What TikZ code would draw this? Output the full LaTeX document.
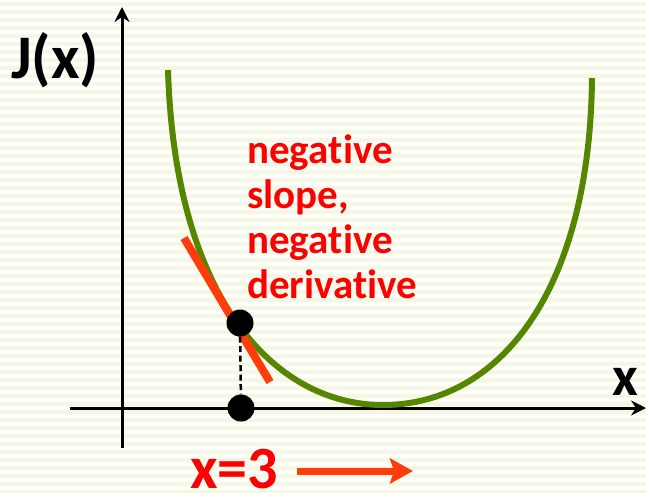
\documentclass[tikz,border=0pt]{standalone}
\usepackage{fontspec}
\setmainfont{Carlito}[Ligatures={NoCommon,NoRare,NoContextual}]
\usetikzlibrary{arrows.meta}
\definecolor{stripe}{RGB}{245,248,225}
\definecolor{curvegreen}{RGB}{84,134,0}
\definecolor{tanred}{RGB}{255,60,10}
\definecolor{txtred}{RGB}{255,0,0}
\tikzset{
  axis/.style={line width=3pt,-{Stealth[length=15pt,width=15pt,inset=5pt]}},
  lbl/.style={font=\bfseries\fontsize{41}{45}\selectfont,text=txtred,inner sep=0pt,anchor=base west},
  big/.style={font=\bfseries\fontsize{62}{66}\selectfont,inner sep=0pt,anchor=base west},
  dot/.style={circle,fill=black,minimum size=27pt,inner sep=0pt},
}
\begin{document}
\begin{tikzpicture}[x=1pt,y=-1pt]
\useasboundingbox (0,0) rectangle (646,493);
\fill[white] (0,0) rectangle (646,493);
\foreach \i in {0,...,61}{\fill[stripe] (0,8*\i+2) rectangle (646,8*\i+6);}
% axes
\coordinate (yb) at (122,448);
\coordinate (yt) at (122,7);
\coordinate (xl) at (70,408);
\coordinate (xr) at (646,408);
\draw[axis] (yb) -- (yt);
\draw[axis] (xl) -- (xr);
% curve
\coordinate (c0) at (168,70);
\coordinate (cm) at (383,405);
\coordinate (c1) at (592,78);
\draw[curvegreen,line width=6pt] (c0) .. controls (175,300) and (275,405) .. (cm)
  .. controls (500,405) and (590,290) .. (c1);
% tangent
\coordinate (t1) at (184,238);
\coordinate (t2) at (270,382);
\draw[tanred,line width=8pt] (t1) -- (t2);
% dots
\node[dot] (d1) at (240,323) {};
\node[dot] (d2) at (241,408) {};
\draw[line width=2.5pt,dash pattern=on 6pt off 3.5pt] (d1) -- (d2);
% labels
\node[big] (J) at (11,78) {J(x)};
\node[big,font=\bfseries\fontsize{56}{60}\selectfont] (X) at (612,395) {x};
\node[lbl] (l1) at (247,163) {nega\kern0pt tive};
\node[lbl] (l2) at (247,208) {slope,};
\node[lbl] (l3) at (247,253) {nega\kern0pt tive};
\node[lbl] (l4) at (247,298) {deriva\kern0pt tive};
\node[big,font=\bfseries\fontsize{60}{64}\selectfont,text=txtred] (x3) at (190,488) {x=3};
\coordinate (a1) at (297,471);
\coordinate (a2) at (413,471);
\draw[tanred,line width=7pt,-{Stealth[length=23pt,width=25pt,inset=4pt]}] (a1) -- (a2);
\end{tikzpicture}
\end{document}
